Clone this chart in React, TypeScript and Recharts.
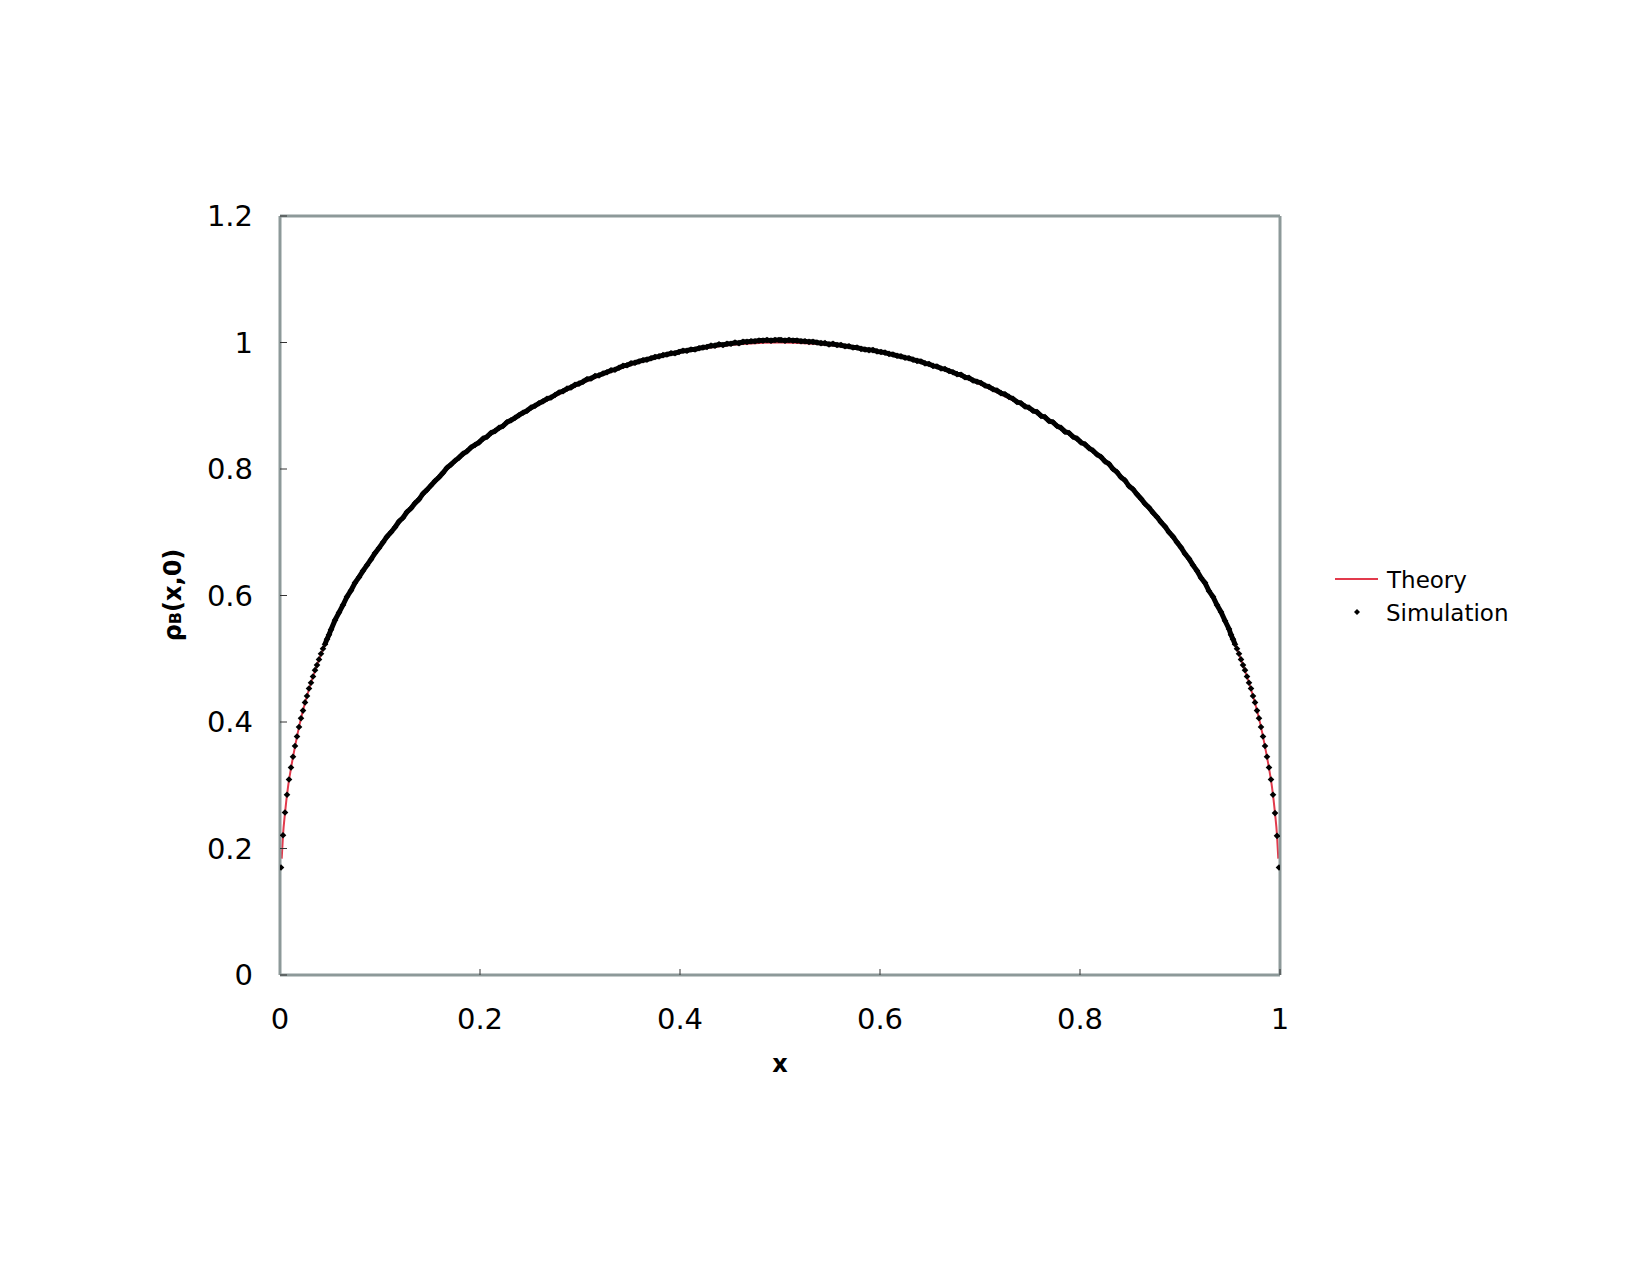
import React from 'react';
import { ComposedChart, Line, Scatter, XAxis, YAxis, Legend } from 'recharts';

const xTicks = [0, 0.2, 0.4, 0.6, 0.8, 1];
const yTicks = [0, 0.2, 0.4, 0.6, 0.8, 1, 1.2];

const theory: [number, number][] = [
  [0.0017, 0.184], [0.003, 0.221], [0.005, 0.256], [0.008, 0.297], [0.011, 0.327], [0.015, 0.361],
  [0.02, 0.399], [0.025, 0.43], [0.03, 0.457], [0.035, 0.481], [0.04, 0.503], [0.05, 0.542],
  [0.06, 0.576], [0.07, 0.605], [0.08, 0.631], [0.09, 0.655], [0.1, 0.677], [0.12, 0.717],
  [0.14, 0.754], [0.16, 0.788], [0.18, 0.818], [0.2, 0.844], [0.225, 0.871], [0.25, 0.894],
  [0.275, 0.915], [0.3, 0.934], [0.325, 0.95], [0.35, 0.964], [0.375, 0.975], [0.4, 0.984],
  [0.425, 0.991], [0.45, 0.996], [0.475, 0.999], [0.5, 1.0], [0.525, 0.999], [0.55, 0.996],
  [0.575, 0.991], [0.6, 0.984], [0.625, 0.975], [0.65, 0.964], [0.675, 0.95], [0.7, 0.934],
  [0.725, 0.915], [0.75, 0.894], [0.775, 0.871], [0.8, 0.844], [0.82, 0.818], [0.84, 0.788],
  [0.86, 0.754], [0.88, 0.717], [0.9, 0.677], [0.91, 0.655], [0.92, 0.631], [0.93, 0.605],
  [0.94, 0.576], [0.95, 0.542], [0.96, 0.503], [0.965, 0.481], [0.97, 0.457], [0.975, 0.43],
  [0.98, 0.399], [0.985, 0.361], [0.989, 0.327], [0.992, 0.297], [0.995, 0.256], [0.997, 0.221],
  [0.9983, 0.184],
];

const simulationLeft: [number, number][] = [
  [0.001, 0.17], [0.003, 0.221], [0.005, 0.257], [0.007, 0.285], [0.009, 0.309], [0.011, 0.328],
  [0.013, 0.345], [0.015, 0.362], [0.017, 0.377], [0.019, 0.392], [0.021, 0.406], [0.023, 0.418],
  [0.025, 0.431], [0.027, 0.441], [0.029, 0.453], [0.031, 0.462], [0.033, 0.472], [0.035, 0.482],
  [0.037, 0.49], [0.039, 0.499], [0.041, 0.508], [0.043, 0.516], [0.045, 0.523], [0.047, 0.531],
  [0.049, 0.538], [0.051, 0.546], [0.055, 0.561], [0.059, 0.573], [0.063, 0.585], [0.067, 0.598],
  [0.071, 0.608], [0.075, 0.62], [0.079, 0.629], [0.083, 0.639], [0.087, 0.648], [0.091, 0.657],
  [0.095, 0.667], [0.099, 0.675], [0.103, 0.684], [0.107, 0.693], [0.111, 0.7], [0.115, 0.708],
  [0.119, 0.717], [0.123, 0.723], [0.127, 0.732], [0.131, 0.738], [0.135, 0.746], [0.139, 0.752],
  [0.143, 0.761], [0.147, 0.767], [0.151, 0.774], [0.155, 0.781], [0.159, 0.787], [0.163, 0.794],
  [0.167, 0.802], [0.171, 0.807], [0.175, 0.813], [0.179, 0.818], [0.183, 0.824], [0.187, 0.828],
  [0.191, 0.834], [0.195, 0.838], [0.199, 0.842], [0.203, 0.848], [0.207, 0.851], [0.211, 0.857],
  [0.215, 0.86], [0.219, 0.865], [0.223, 0.868], [0.227, 0.874], [0.231, 0.877], [0.235, 0.881],
  [0.239, 0.885], [0.243, 0.889], [0.247, 0.892], [0.251, 0.897], [0.255, 0.9], [0.259, 0.904],
  [0.263, 0.907], [0.267, 0.911], [0.271, 0.913], [0.275, 0.917], [0.279, 0.921], [0.283, 0.923],
  [0.287, 0.927], [0.291, 0.929], [0.295, 0.933], [0.299, 0.935], [0.303, 0.938], [0.307, 0.942],
  [0.311, 0.943], [0.315, 0.947], [0.319, 0.948], [0.323, 0.951], [0.327, 0.953], [0.331, 0.956],
  [0.335, 0.957], [0.339, 0.96], [0.343, 0.963], [0.347, 0.964], [0.351, 0.967], [0.355, 0.968],
  [0.359, 0.97], [0.363, 0.972], [0.367, 0.973], [0.371, 0.975], [0.375, 0.977], [0.379, 0.978],
  [0.383, 0.98], [0.387, 0.981], [0.391, 0.983], [0.395, 0.983], [0.399, 0.985], [0.403, 0.987],
  [0.407, 0.987], [0.411, 0.989], [0.415, 0.989], [0.419, 0.991], [0.423, 0.992], [0.427, 0.993],
  [0.431, 0.995], [0.435, 0.995], [0.439, 0.997], [0.443, 0.996], [0.447, 0.998], [0.451, 0.998],
  [0.455, 1.0], [0.459, 0.999], [0.463, 1.001], [0.467, 1.001], [0.471, 1.002], [0.475, 1.002],
  [0.479, 1.003], [0.483, 1.003], [0.487, 1.004], [0.491, 1.003], [0.495, 1.004], [0.499, 1.004],
];

const simulationRight: [number, number][] = [
  [0.501, 1.004], [0.505, 1.003], [0.509, 1.004], [0.513, 1.003], [0.517, 1.003], [0.521, 1.002],
  [0.525, 1.002], [0.529, 1.001], [0.533, 1.001], [0.537, 1.0], [0.541, 0.999], [0.545, 0.999],
  [0.549, 0.997], [0.553, 0.998], [0.557, 0.996], [0.561, 0.996], [0.565, 0.994], [0.569, 0.994],
  [0.573, 0.992], [0.577, 0.992], [0.581, 0.99], [0.585, 0.989], [0.589, 0.988], [0.593, 0.988],
  [0.597, 0.986], [0.601, 0.985], [0.605, 0.984], [0.609, 0.982], [0.613, 0.981], [0.617, 0.979],
  [0.621, 0.978], [0.625, 0.976], [0.629, 0.975], [0.633, 0.973], [0.637, 0.971], [0.641, 0.97],
  [0.645, 0.967], [0.649, 0.966], [0.653, 0.963], [0.657, 0.962], [0.661, 0.959], [0.665, 0.958],
  [0.669, 0.955], [0.673, 0.953], [0.677, 0.95], [0.681, 0.949], [0.685, 0.945], [0.689, 0.944],
  [0.693, 0.94], [0.697, 0.938], [0.701, 0.936], [0.705, 0.932], [0.709, 0.93], [0.713, 0.926],
  [0.717, 0.924], [0.721, 0.92], [0.725, 0.918], [0.729, 0.914], [0.733, 0.911], [0.737, 0.906],
  [0.741, 0.904], [0.745, 0.899], [0.749, 0.897], [0.753, 0.892], [0.757, 0.89], [0.761, 0.884],
  [0.765, 0.882], [0.769, 0.876], [0.773, 0.874], [0.777, 0.868], [0.781, 0.865], [0.785, 0.859],
  [0.789, 0.857], [0.793, 0.851], [0.797, 0.848], [0.801, 0.842], [0.805, 0.839], [0.809, 0.833],
  [0.813, 0.829], [0.817, 0.823], [0.821, 0.819], [0.825, 0.812], [0.829, 0.808], [0.833, 0.8],
  [0.837, 0.795], [0.841, 0.787], [0.845, 0.782], [0.849, 0.773], [0.853, 0.768], [0.857, 0.76],
  [0.861, 0.753], [0.865, 0.745], [0.869, 0.739], [0.873, 0.731], [0.877, 0.724], [0.881, 0.716],
  [0.885, 0.709], [0.889, 0.7], [0.893, 0.693], [0.897, 0.684], [0.901, 0.676], [0.905, 0.666],
  [0.909, 0.658], [0.913, 0.648], [0.917, 0.639], [0.921, 0.628], [0.925, 0.62], [0.929, 0.607],
  [0.933, 0.598], [0.937, 0.585], [0.941, 0.574], [0.945, 0.56], [0.949, 0.547], [0.951, 0.538],
  [0.953, 0.531], [0.955, 0.523], [0.957, 0.516], [0.959, 0.508], [0.961, 0.499], [0.963, 0.49],
  [0.965, 0.482], [0.967, 0.472], [0.969, 0.462], [0.971, 0.453], [0.973, 0.441], [0.975, 0.431],
  [0.977, 0.418], [0.979, 0.406], [0.981, 0.392], [0.983, 0.377], [0.985, 0.362], [0.987, 0.345],
  [0.989, 0.328], [0.991, 0.309], [0.993, 0.285], [0.995, 0.256], [0.997, 0.22], [0.999, 0.17],
];

const FONT = '"DejaVu Sans", Verdana, sans-serif';
const FRAME = '#8d9999';
const RED = '#e23a4c';

const theoryData = theory.map(([x, y]) => ({ x, y }));
const simData = [...simulationLeft, ...simulationRight].map(([x, y]) => ({ x, y }));
const simBand = simData.filter((d) => d.x >= 0.045 && d.x <= 0.955);

function Diamond(props: any) {
  const { cx, cy } = props;
  if (cx == null || cy == null) return null;
  const r = 3.3;
  return <path d={`M${cx},${cy - r}L${cx + r},${cy}L${cx},${cy + r}L${cx - r},${cy}Z`} fill="#000" />;
}

function LegendContent() {
  return (
    <svg width={220} height={80} style={{ overflow: 'visible' }}>
      <line x1={5} y1={19} x2={48} y2={19} stroke={RED} strokeWidth={2} />
      <text x={57} y={28} fontFamily={FONT} fontSize={23} fill="#000">Theory</text>
      <path d="M27,49L30,52L27,55L24,52Z" fill="#000" />
      <text x={56} y={61} fontFamily={FONT} fontSize={23} fill="#000">Simulation</text>
    </svg>
  );
}

function YLabel() {
  return (
    <text x={181} y={595} transform="rotate(-90 181 595)" textAnchor="middle" fontFamily={FONT} fontWeight="bold" fontSize={24} fill="#000">
      ρ<tspan fontSize={16}>B</tspan>(x,0)
    </text>
  );
}

function XLabel() {
  return (
    <text x={780} y={1072} textAnchor="middle" fontFamily={FONT} fontWeight="bold" fontSize={24} fill="#000">
      x
    </text>
  );
}

export default function App() {
  return (
    <div style={{ position: 'absolute', left: 0, top: 0, width: 1650, height: 1275, background: '#fff' }}>
      <ComposedChart
        width={1650}
        height={1275}
        margin={{ top: 215, right: 369, bottom: 299, left: 279 }}
        style={{ fontFamily: FONT }}
      >
        <XAxis
          xAxisId="top"
          orientation="top"
          type="number"
          domain={[0, 1]}
          height={1}
          tick={false}
          tickLine={false}
          axisLine={{ stroke: FRAME, strokeWidth: 3 }}
        />
        <YAxis
          yAxisId="right"
          orientation="right"
          type="number"
          domain={[0, 1.2]}
          width={1}
          tick={false}
          tickLine={false}
          axisLine={{ stroke: FRAME, strokeWidth: 3 }}
        />
        <XAxis
          dataKey="x"
          type="number"
          domain={[0, 1]}
          ticks={xTicks}
          interval={0}
          allowDataOverflow
          height={1}
          tickSize={-6}
          tickMargin={39.5}
          tickLine={{ stroke: '#333', strokeWidth: 1 }}
          axisLine={{ stroke: FRAME, strokeWidth: 3 }}
          tick={{ fill: '#000', fontSize: 29, fontFamily: FONT }}
          tickFormatter={(v: number) => String(v)}
          label={{ content: XLabel }}
        />
        <YAxis
          dataKey="y"
          type="number"
          domain={[0, 1.2]}
          ticks={yTicks}
          interval={0}
          allowDataOverflow
          width={1}
          tickSize={-7}
          tickMargin={34}
          tickLine={{ stroke: '#333', strokeWidth: 1 }}
          axisLine={{ stroke: FRAME, strokeWidth: 3 }}
          tick={{ fill: '#000', fontSize: 29, fontFamily: FONT }}
          tickFormatter={(v: number) => String(v)}
          label={{ content: YLabel }}
        />
        <Line
          data={theoryData}
          dataKey="y"
          type="monotone"
          stroke={RED}
          strokeWidth={2}
          dot={false}
          activeDot={false}
          isAnimationActive={false}
          legendType="none"
        />
        <Line
          data={simBand}
          dataKey="y"
          type="linear"
          stroke="#000"
          strokeWidth={5}
          dot={false}
          activeDot={false}
          isAnimationActive={false}
          legendType="none"
        />
        <Scatter data={simData} dataKey="y" shape={Diamond} isAnimationActive={false} />
        <Legend
          layout="horizontal"
          align="center"
          verticalAlign="middle"
          content={LegendContent}
          wrapperStyle={{ left: 1330, top: 560, width: 220, height: 80 }}
        />
      </ComposedChart>
    </div>
  );
}
